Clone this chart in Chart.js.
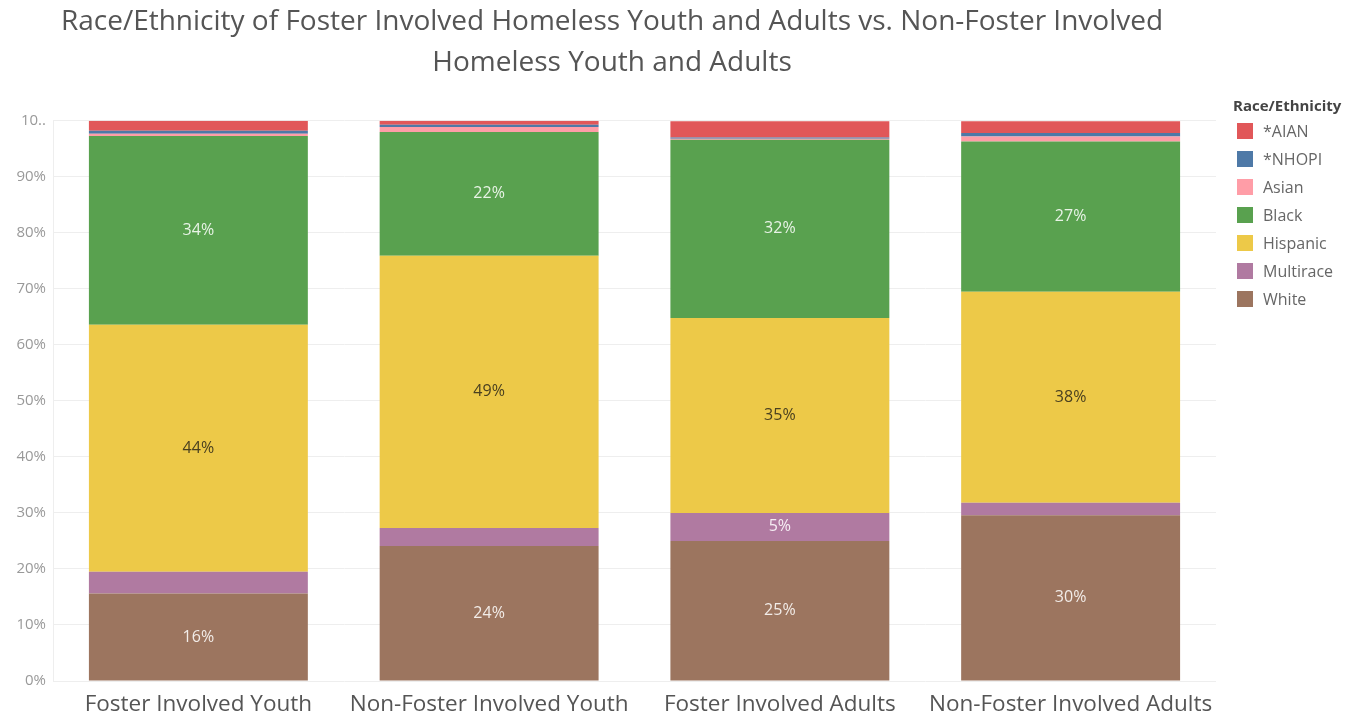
<!DOCTYPE html>
<html>
<head>
<meta charset="utf-8">
<script src="https://cdn.jsdelivr.net/npm/chart.js@4"></script>
<style>
  body { margin: 0; background: #fff; }
  #wrap { width: 1366px; height: 717px; }
</style>
</head>
<body>
<div id="wrap"><canvas id="raceChart" width="1366" height="717"></canvas></div>
<script>
// categories and series (percent of each group)
let groups = ["Foster Involved Youth", "Non-Foster Involved Youth", "Foster Involved Adults", "Non-Foster Involved Adults"];
let white = [15.6, 24.1, 25.0, 29.6];
let multirace = [3.9, 3.2, 5.0, 2.2];
let hispanic = [44.1, 48.6, 34.8, 37.7];
let black = [33.7, 22.1, 31.8, 26.8];
let asian = [0.4, 0.9, 0.2, 0.9];
let nhopi = [0.5, 0.4, 0.2, 0.6];
let aian = [1.8, 0.7, 2.9, 2.1];
let yTickLabels = ["0%", "10%", "20%", "30%", "40%", "50%", "60%", "70%", "80%", "90%", "10.."];

let fontName = "'Open Sans', sans-serif";

let ctx = document.getElementById("raceChart").getContext("2d");

// text inside the big segments
let segmentLabels = {
    id: "segmentLabels",
    afterDatasetsDraw(chart) {
        let c = chart.ctx;
        c.save();
        c.font = "16px " + fontName;
        c.textAlign = "center";
        c.textBaseline = "middle";
        chart.data.datasets.forEach((ds, i) => {
            let meta = chart.getDatasetMeta(i);
            meta.data.forEach((bar, j) => {
                let v = ds.data[j];
                if (v < 4.5) return;
                c.fillStyle = ds.labelColor;
                c.fillText(Math.round(v) + "%", bar.x, (bar.y + bar.base) / 2);
            });
        });
        c.restore();
    },
};

// legend on the right, top item = last dataset
let sideLegend = {
    id: "sideLegend",
    afterDraw(chart) {
        let c = chart.ctx;
        c.save();
        c.textBaseline = "middle";
        c.textAlign = "left";
        c.font = "bold 15px " + fontName;
        c.fillStyle = "#444";
        c.fillText("Race/Ethnicity", 1233, 107);
        c.font = "16px " + fontName;
        let items = chart.data.datasets.slice().reverse();
        items.forEach((ds, k) => {
            let y = 131 + k * 28;
            c.fillStyle = ds.backgroundColor;
            c.fillRect(1237, y - 8, 16, 16);
            c.fillStyle = "#666";
            c.fillText(ds.label, 1263, y + 1);
        });
        c.restore();
    },
};

let myChart = new Chart(ctx, {
    type: "bar",
    data: {
        labels: groups,
        datasets: [
            { label: "White", data: white, backgroundColor: "#9c755f", labelColor: "#f2ece8" },
            { label: "Multirace", data: multirace, backgroundColor: "#b07aa1", labelColor: "#f6eef4" },
            { label: "Hispanic", data: hispanic, backgroundColor: "#edc948", labelColor: "#4a4020" },
            { label: "Black", data: black, backgroundColor: "#59a14f", labelColor: "#e8f3e6" },
            { label: "Asian", data: asian, backgroundColor: "#ff9da7", labelColor: "#fff" },
            { label: "*NHOPI", data: nhopi, backgroundColor: "#4e79a7", labelColor: "#fff" },
            { label: "*AIAN", data: aian, backgroundColor: "#e15759", labelColor: "#fff" },
        ],
    },
    options: {
        responsive: false,
        animation: false,
        layout: {
            padding: { left: 8, right: 150, top: 0, bottom: 0 },
        },
        datasets: {
            bar: {
                categoryPercentage: 1,
                barPercentage: 0.753,
                borderWidth: 0,
            },
        },
        plugins: {
            legend: { display: false },
            tooltip: { enabled: false },
            title: {
                display: true,
                text: [
                    "Race/Ethnicity of Foster Involved Homeless Youth and Adults vs. Non-Foster Involved",
                    "Homeless Youth and Adults",
                ],
                color: "#555",
                font: { family: fontName, size: 28, weight: "normal", lineHeight: 1.46 },
                padding: { top: 2, bottom: 37 },
            },
        },
        scales: {
            x: {
                stacked: true,
                grid: { display: false, drawTicks: false },
                border: { display: false },
                ticks: {
                    color: "#555",
                    font: { family: fontName, size: 22.5 },
                    padding: 10,
                    maxRotation: 0,
                },
                afterFit(scale) {
                    scale.height = 36;
                },
            },
            y: {
                stacked: true,
                min: 0,
                max: 100,
                grid: { color: "#eeeeee", drawTicks: false },
                border: { color: "#eeeeee" },
                ticks: {
                    stepSize: 10,
                    color: "#999",
                    font: { family: fontName, size: 15 },
                    padding: 7,
                    callback: (v) => yTickLabels[v / 10],
                },
                afterFit(scale) {
                    scale.width = 45;
                },
            },
        },
    },
    plugins: [segmentLabels, sideLegend],
});
</script>
</body>
</html>
